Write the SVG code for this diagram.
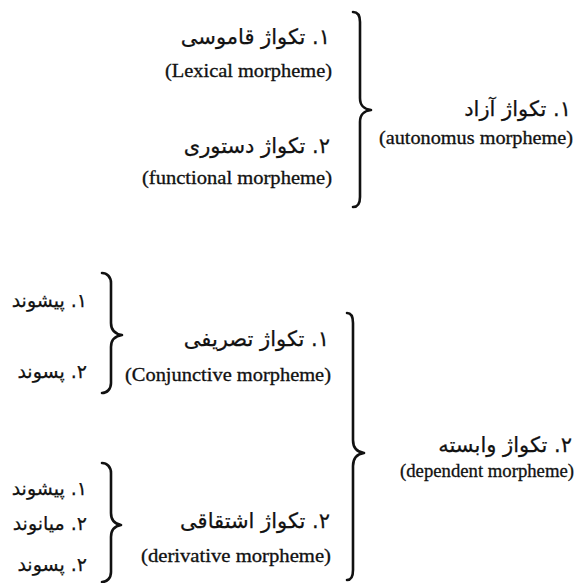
<svg xmlns="http://www.w3.org/2000/svg" width="574" height="583" viewBox="0 0 574 583">
<style>
.fa{font-family:"DejaVu Sans",sans-serif;font-size:21px;fill:#111;stroke:#111;stroke-width:0.25;direction:rtl;unicode-bidi:embed;text-anchor:start}
.sm{font-size:19px}
.en{font-family:"Liberation Serif",serif;font-size:18px;fill:#111;stroke:#111;stroke-width:0.3;text-anchor:end}
.br{fill:none;stroke:#111;stroke-width:2.6;stroke-linecap:round;stroke-linejoin:round}
</style>
<rect width="574" height="583" fill="#fff"/>
<g id="connectors">
<path class="br" d="M353,12 C358,12 360,16 360,22 L360,98 C360,106 364,109 371,110 C364,111 360,114 360,122 L360,197 C360,203 358,207 353,207"/>
<path class="br" d="M347,313 C351,313 353,317 353,323 L353,440 C353,448 357,452 364,453 C357,454 353,458 353,466 L353,570 C353,576 351,580 347,580"/>
<path class="br" d="M102,273 C107,273 111,277 111,283 L111,323 C111,330 115,334 122,335 C115,336 111,340 111,347 L111,383 C111,389 107,393 102,393"/>
<path class="br" d="M102,463 C107,463 111,467 111,473 L111,513 C111,520 115,524 121,525 C115,526 111,530 111,537 L111,572 C111,578 107,582 102,582"/>
</g>
<g id="n-free">
<text class="fa" x="571" y="116">۱. تکواژ آزاد</text>
<text class="en" x="573" y="144" textLength="194" lengthAdjust="spacingAndGlyphs">(autonomus  morpheme)</text>
</g>
<g id="n-lexical">
<text class="fa" x="330" y="44">۱. تکواژ قاموسی</text>
<text class="en" x="332" y="77" textLength="167" lengthAdjust="spacingAndGlyphs">(Lexical  morpheme)</text>
</g>
<g id="n-functional">
<text class="fa" x="330" y="153">۲. تکواژ دستوری</text>
<text class="en" x="332" y="184" textLength="190" lengthAdjust="spacingAndGlyphs">(functional  morpheme)</text>
</g>
<g id="n-bound">
<text class="fa" x="572" y="452">۲. تکواژ وابسته</text>
<text class="en" x="574" y="477" textLength="174" lengthAdjust="spacingAndGlyphs">(dependent  morpheme)</text>
</g>
<g id="n-inflectional">
<text class="fa" x="329" y="346">۱. تکواژ تصریفی</text>
<text class="en" x="331" y="381" textLength="206" lengthAdjust="spacingAndGlyphs">(Conjunctive  morpheme)</text>
</g>
<g id="n-derivational">
<text class="fa" x="330" y="528">۲. تکواژ اشتقاقی</text>
<text class="en" x="331" y="562" textLength="190" lengthAdjust="spacingAndGlyphs">(derivative  morpheme)</text>
</g>
<g id="n-prefix-1">
<text class="fa sm" x="87" y="307">۱. پیشوند</text>
</g>
<g id="n-suffix-1">
<text class="fa sm" x="87" y="378">۲. پسوند</text>
</g>
<g id="n-prefix-2">
<text class="fa sm" x="87" y="495">۱. پیشوند</text>
</g>
<g id="n-infix-2">
<text class="fa sm" x="87" y="530">۲. میانوند</text>
</g>
<g id="n-suffix-2">
<text class="fa sm" x="87" y="571">۲. پسوند</text>
</g>
</svg>
